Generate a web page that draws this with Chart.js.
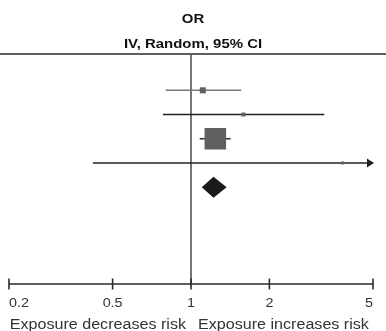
<!DOCTYPE html>
<html><head><meta charset="utf-8">
<script src="https://cdn.jsdelivr.net/npm/chart.js@4.4.1/dist/chart.umd.min.js"></script>
<style>html,body{margin:0;padding:0;background:#fff;overflow:hidden}#wrap{width:386px;height:331px}</style>
</head><body><div id="wrap"><canvas id="c" width="386" height="331"></canvas></div>
<script>
// ---- data ----
const studies = ['Study 1', 'Study 2', 'Study 3', 'Study 4'];
const oddsRatios = [1.11, 1.59, 1.24, 3.82];
const ciLower = [0.80, 0.78, 1.08, 0.42];
const ciUpper = [1.56, 3.25, 1.42, 8.0];
const weights = [7.0, 3.0, 88.3, 1.7];
const pooledLabel = ['Total'];
const pooledOR = [1.22];
const pooledLower = [1.10];
const pooledUpper = [1.37];
const tickValues = [0.2, 0.5, 1, 2, 5];
const tickLabels = ['0.2', '0.5', '1', '2', '5'];
const titleLines = ['OR', 'IV, Random, 95% CI'];
const favourLabels = ['Exposure decreases risk', 'Exposure increases risk'];

// ---- styles ----
const X_MIN = tickValues[0], X_MAX = tickValues[tickValues.length - 1];
const lineColors = ['#7a7a7a', '#222222', '#333333', '#222222'];
const boxColor = '#606060';
const FONT = '"Liberation Sans", Arial, Helvetica, sans-serif';

const rowOf = i => i + 1;
const ciDatasets = studies.map((s, i) => ({
  label: s + ' CI',
  data: [{x: ciLower[i], y: rowOf(i)}, {x: Math.min(ciUpper[i], X_MAX), y: rowOf(i)}],
  showLine: true,
  borderColor: lineColors[i],
  borderWidth: 1.6,
  pointRadius: 0,
  order: 2
}));
const boxDataset = {
  label: 'OR',
  data: studies.map((s, i) => ({x: oddsRatios[i], y: rowOf(i)})),
  pointStyle: 'rect',
  pointRadius: weights.map(w => 2.29 * Math.sqrt(w) / Math.SQRT2),
  backgroundColor: boxColor,
  borderWidth: 0,
  order: 0
};

function txt(ctx, text, x, y, font, align, sx, color) {
  ctx.save();
  ctx.font = font;
  ctx.fillStyle = color;
  ctx.textBaseline = 'alphabetic';
  ctx.textAlign = align;
  ctx.translate(x, y);
  ctx.scale(sx, 1);
  ctx.fillText(text, 0, 0);
  ctx.restore();
}

const forestPlugin = {
  id: 'forest',
  beforeDatasetsDraw(chart) {
    const {ctx, chartArea: a, scales: {x}} = chart;
    ctx.save();
    ctx.strokeStyle = '#2a2a2a';
    ctx.lineWidth = 1.6;
    ctx.beginPath(); ctx.moveTo(0, a.top); ctx.lineTo(chart.width, a.top); ctx.stroke();
    const x1 = x.getPixelForValue(1);
    ctx.strokeStyle = '#555';
    ctx.lineWidth = 1.6;
    ctx.beginPath(); ctx.moveTo(x1, a.top); ctx.lineTo(x1, a.bottom); ctx.stroke();
    ctx.restore();
  },
  afterDatasetsDraw(chart) {
    const {ctx, chartArea: a, scales: {x, y}} = chart;
    ctx.save();
    studies.forEach((s, i) => {
      if (ciUpper[i] > X_MAX) {
        const px = x.getPixelForValue(X_MAX), py = y.getPixelForValue(rowOf(i));
        ctx.fillStyle = lineColors[i];
        ctx.beginPath();
        ctx.moveTo(px + 1, py); ctx.lineTo(px - 6, py - 4.5); ctx.lineTo(px - 6, py + 4.5);
        ctx.closePath(); ctx.fill();
      }
    });
    pooledOR.forEach((v, j) => {
      const row = studies.length + 1 + j;
      const py = y.getPixelForValue(row);
      const h = 10.5;
      ctx.fillStyle = '#1a1a1a';
      ctx.beginPath();
      ctx.moveTo(x.getPixelForValue(pooledLower[j]), py);
      ctx.lineTo(x.getPixelForValue(v), py - h);
      ctx.lineTo(x.getPixelForValue(pooledUpper[j]), py);
      ctx.lineTo(x.getPixelForValue(v), py + h);
      ctx.closePath(); ctx.fill();
    });
    ctx.strokeStyle = '#2a2a2a';
    ctx.lineWidth = 1.6;
    const xl = x.getPixelForValue(X_MIN), xr = x.getPixelForValue(X_MAX);
    ctx.beginPath(); ctx.moveTo(xl, a.bottom); ctx.lineTo(xr, a.bottom); ctx.stroke();
    tickValues.forEach((t, i) => {
      const px = x.getPixelForValue(t);
      ctx.beginPath(); ctx.moveTo(px, a.bottom - 5.5); ctx.lineTo(px, a.bottom + 5.5); ctx.stroke();
      const align = i === 0 ? 'left' : (i === tickValues.length - 1 ? 'right' : 'center');
      txt(ctx, tickLabels[i], px, a.bottom + 22.5, '12.5px ' + FONT, align, 1.15, '#333');
    });
    const x1 = x.getPixelForValue(1);
    txt(ctx, favourLabels[0], x1 - 5, a.bottom + 45.3, '14px ' + FONT, 'right', 1.15, '#333');
    txt(ctx, favourLabels[1], x1 + 7, a.bottom + 45.3, '14px ' + FONT, 'left', 1.15, '#333');
    txt(ctx, titleLines[0], chart.width / 2, 22.7, 'bold 13px ' + FONT, 'center', 1.15, '#111');
    txt(ctx, titleLines[1], chart.width / 2, 48.3, 'bold 13px ' + FONT, 'center', 1.15, '#111');
    ctx.restore();
  }
};

new Chart(document.getElementById('c'), {
  type: 'scatter',
  data: {datasets: [...ciDatasets, boxDataset]},
  options: {
    responsive: false,
    devicePixelRatio: 1,
    animation: false,
    layout: {autoPadding: false, padding: {top: 54, left: 9, right: 13, bottom: 47}},
    plugins: {legend: {display: false}, tooltip: {enabled: false}, title: {display: false}},
    scales: {
      x: {type: 'logarithmic', min: X_MIN, max: X_MAX, display: false},
      y: {type: 'linear', min: -0.5, max: 9, reverse: true, display: false}
    }
  },
  plugins: [forestPlugin]
});
</script>
</body></html>
